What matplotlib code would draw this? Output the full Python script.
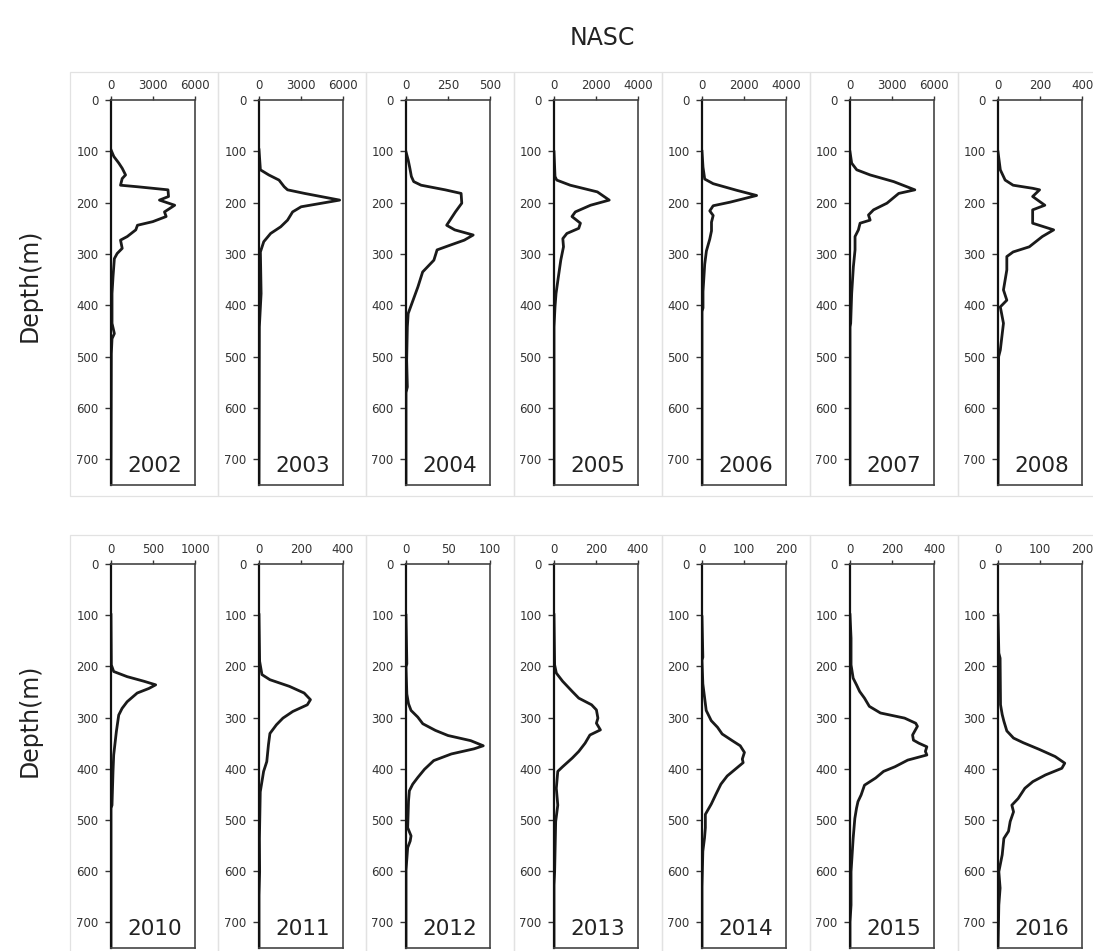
import matplotlib
matplotlib.use('Agg')
import matplotlib.pyplot as plt
from matplotlib.patches import Rectangle

# depth (m) and NASC
years_top = ['2002', '2003', '2004', '2005', '2006', '2007', '2008']
years_bot = ['2010', '2011', '2012', '2013', '2014', '2015', '2016']
xmax_top = [6000, 6000, 500, 4000, 4000, 6000, 400]
xmax_bot = [1000, 400, 100, 400, 200, 400, 200]

depth_2002 = [97, 110, 123, 133, 146, 153, 166, 169, 175, 188, 195, 205, 218, 227, 237, 244,
              253, 266, 273, 289, 299, 309, 344, 377, 435, 455, 465, 494, 750]
nasc_2002 = [0, 200, 560, 800, 1040, 800, 680, 1890, 4070, 4110, 3460, 4550, 3820, 3940, 2980, 1890,
             1770, 1160, 680, 800, 440, 240, 145, 73, 73, 240, 73, 24, 0]

depth_2003 = [97, 136, 146, 156, 169, 175, 182, 195, 208, 218, 234, 247, 260, 276, 296, 377, 442, 750]
nasc_2003 = [0, 100, 700, 1430, 1800, 2040, 3260, 5760, 3010, 2400, 2040, 1550, 830, 340, 100, 150, 25, 0]

depth_2004 = [101, 117, 133, 149, 159, 166, 175, 182, 201, 218, 244, 253, 263, 273, 283, 292,
              312, 335, 364, 390, 416, 442, 507, 559, 570, 750]
nasc_2004 = [0, 13, 23, 32, 46, 90, 233, 328, 332, 294, 242, 290, 400, 347, 261, 185,
             166, 99, 71, 42, 13, 8, 4, 8, 0, 0]

depth_2005 = [101, 149, 156, 166, 179, 195, 205, 218, 227, 240, 250, 260, 270, 286, 312, 344, 377, 403, 442, 750]
nasc_2005 = [0, 48, 130, 774, 2065, 2630, 1740, 1016, 855, 1258, 1177, 613, 420, 452, 323, 210, 97, 48, 0, 0]

depth_2006 = [100, 131, 154, 163, 176, 186, 199, 206, 216, 225, 238, 255, 271, 294, 320, 373, 405, 412, 750]
nasc_2006 = [0, 48, 129, 532, 1660, 2600, 1340, 532, 370, 532, 452, 452, 370, 210, 129, 48, 48, 0, 0]

depth_2007 = [101, 123, 136, 146, 159, 175, 182, 201, 214, 224, 234, 240, 253, 266, 292, 325, 377, 435, 442, 750]
nasc_2007 = [0, 120, 480, 1440, 3120, 4630, 3480, 2640, 1680, 1320, 1440, 720, 600, 360, 360, 240, 120, 48, 0, 0]

depth_2008 = [101, 136, 156, 166, 172, 175, 188, 205, 214, 240, 253, 266, 286, 296, 305, 331,
              370, 390, 403, 435, 487, 500, 750]
nasc_2008 = [0, 11, 34, 72, 165, 198, 165, 223, 165, 165, 265, 211, 149, 72, 42, 42,
             26, 42, 11, 26, 11, 3, 0]

depth_2010 = [99, 197, 210, 220, 229, 236, 243, 252, 269, 282, 295, 327, 373, 405, 471, 477, 750]
nasc_2010 = [0, 4, 32, 192, 392, 532, 452, 312, 192, 132, 92, 64, 32, 24, 12, 0, 0]

depth_2011 = [99, 190, 216, 226, 239, 252, 265, 275, 288, 301, 314, 331, 353, 386, 405, 445, 536, 601, 647, 750]
nasc_2011 = [0, 3, 14, 52, 145, 215, 245, 230, 161, 114, 83, 52, 45, 37, 22, 6, 2, 3, 0, 0]

depth_2012 = [100, 195, 201, 254, 273, 286, 299, 312, 325, 335, 345, 355, 361, 371, 384, 401,
              417, 430, 443, 463, 515, 531, 541, 554, 598, 750]
nasc_2012 = [0, 1, 0, 1, 3, 6, 14, 20, 35, 50, 77, 92, 81, 54, 33, 22,
             14, 8, 4, 3, 2, 6, 5, 2, 0, 0]

depth_2013 = [99, 197, 213, 229, 249, 262, 275, 285, 301, 311, 324, 334, 350, 366, 379, 396,
              405, 438, 471, 503, 601, 627, 750]
nasc_2013 = [0, 3, 11, 41, 87, 118, 179, 202, 209, 202, 221, 171, 148, 118, 87, 41,
             18, 11, 18, 8, 3, 0, 0]

depth_2014 = [103, 182, 188, 234, 260, 286, 306, 319, 332, 345, 355, 368, 381, 388, 401, 414,
              430, 450, 469, 489, 515, 535, 561, 630, 750]
nasc_2014 = [0, 2, 0, 2, 6, 10, 22, 37, 48, 72, 91, 101, 96, 98, 79, 60,
             45, 33, 22, 8, 8, 6, 2, 0, 0]

depth_2015 = [99, 145, 197, 223, 236, 249, 262, 278, 291, 301, 311, 317, 334, 344, 350, 357,
              366, 373, 383, 396, 405, 418, 432, 451, 464, 477, 497, 536, 575, 601, 666, 699, 750]
nasc_2015 = [0, 5, 5, 15, 31, 46, 69, 92, 145, 260, 313, 321, 298, 302, 328, 366,
             359, 366, 275, 214, 160, 122, 69, 53, 38, 31, 23, 15, 9, 5, 5, 0, 0]

depth_2016 = [99, 174, 184, 275, 294, 307, 326, 340, 349, 362, 376, 389, 399, 412, 425, 438,
              458, 471, 484, 503, 522, 536, 568, 601, 633, 666, 750]
nasc_2016 = [0, 2, 5, 6, 10, 14, 21, 37, 60, 98, 136, 159, 152, 113, 83, 64,
             48, 33, 37, 29, 25, 14, 10, 2, 5, 2, 0]

top_data = [(depth_2002, nasc_2002), (depth_2003, nasc_2003), (depth_2004, nasc_2004),
            (depth_2005, nasc_2005), (depth_2006, nasc_2006), (depth_2007, nasc_2007),
            (depth_2008, nasc_2008)]
bot_data = [(depth_2010, nasc_2010), (depth_2011, nasc_2011), (depth_2012, nasc_2012),
            (depth_2013, nasc_2013), (depth_2014, nasc_2014), (depth_2015, nasc_2015),
            (depth_2016, nasc_2016)]

W, H = 1093, 951
fig = plt.figure(figsize=(W / 100, H / 100), dpi=100)

lefts = [111, 259, 406, 554, 702, 850, 998]
ax_w = 84
rows = [(100, 485, 72, 496, years_top, xmax_top, top_data),
        (564, 948, 535, 960, years_bot, xmax_bot, bot_data)]

for (ytop, ybot, btop, bbot, years, xmaxs, data) in rows:
    # faint chart-area frames behind each panel
    for i in range(7):
        bx = 70 + i * 148
        fig.add_artist(Rectangle((bx / W, 1 - bbot / H), 148 / W, (bbot - btop) / H,
                                 transform=fig.transFigure, fill=False,
                                 ec='#e2e2e2', lw=0.9))
    for i in range(7):
        ax = fig.add_axes([lefts[i] / W, 1 - ybot / H, ax_w / W, (ybot - ytop) / H])
        d, v = data[i]
        ax.plot(v, d, color='#1a1a1a', lw=2.0, solid_joinstyle='round')
        xm = xmaxs[i]
        ax.set_xlim(0, xm)
        ax.set_ylim(750, 0)
        ax.set_xticks([0, xm / 2, xm])
        ax.set_xticklabels(['0', str(int(xm / 2)), str(xm)])
        ax.set_yticks(range(0, 701, 100))
        ax.xaxis.set_ticks_position('top')
        ax.tick_params(axis='x', direction='out', length=3, pad=3, labelsize=8.5,
                       colors='#333333', width=1)
        ax.tick_params(axis='y', direction='out', length=4, pad=5, labelsize=8.5,
                       colors='#333333', width=1)
        for s in ['top', 'right', 'bottom']:
            ax.spines[s].set_color('#444444')
            ax.spines[s].set_linewidth(1.2)
        ax.spines['left'].set_color('#111111')
        ax.spines['left'].set_linewidth(1.6)
        ax.text(0.52, 0.05, years[i], transform=ax.transAxes, ha='center', va='center',
                fontsize=15.5, color='#222222')

fig.text(602 / W, 1 - 38 / H, 'NASC', ha='center', va='center', fontsize=17, color='#222222')
fig.text(30 / W, 1 - 285 / H, 'Depth(m)', ha='center', va='center', rotation=90,
         fontsize=17, color='#222222')
fig.text(30 / W, 1 - 720 / H, 'Depth(m)', ha='center', va='center', rotation=90,
         fontsize=17, color='#222222')

plt.savefig('out.png', dpi=100)
